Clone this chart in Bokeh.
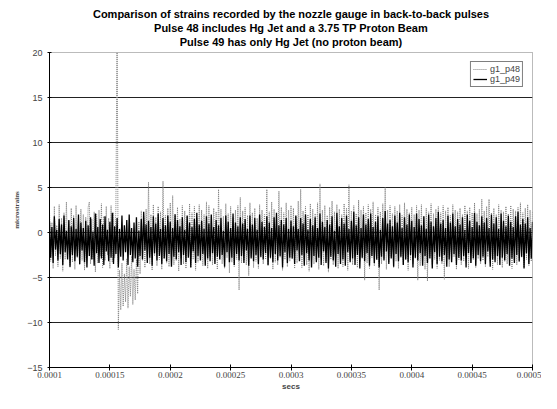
from bokeh.plotting import figure
from bokeh.models import FixedTicker, Range1d, Title, Legend
from bokeh.embed import file_html
from bokeh.resources import INLINE

# ---------------- data ----------------
t_start = 0.0001
t_step = 0.000001

# g1_p48 (Hg jet + 3.75 TP proton beam) - microstrains
p48 = [2.4, -3.2, 1.1, -4.0, 2.9, -2.6, 0.8, -3.8, 3.1, -2.9, 1.6, -4.3, 2.2, -3.0, 3.4, -2.4, 1.3, -3.9, 2.7, -3.3,
       1.9, -4.1, 3.0, -2.8, 1.4, -3.6, 2.6, -3.1, 2.0, -4.2, 1.7, -2.7, 2.8, 3.4, -3.5, 1.5, -3.0, 2.3, -4.4, 2.1,
       -3.4, 2.5, -2.6, 3.2, -3.9, 1.8, -3.1, 2.9, -2.5, 1.6, -4.0, 3.0, -3.3, 2.2, -2.8, 2.7, 25.0, -10.8, -4.2, -8.6,
       -3.4, -8.2, -4.6, -7.7, -2.9, -8.4, -3.8, -7.1, -2.6, -8.0, -4.1, -7.5, -3.0, -6.8, 1.2, -4.6, 2.4, -3.1, 1.8, -3.9,
       2.6, -2.8, 5.6, -3.5, 2.0, -4.2, 3.1, -2.6, 1.7, -3.7, 2.9, -3.0, 2.3, -4.1, 5.7, -2.9, 1.9, -3.4, 2.7, -3.8,
       3.3, -2.7, 4.1, -3.6, 2.1, -3.1, 2.8, -4.3, 1.5, -2.9, 3.0, -3.5, 2.4, -4.0, 1.8, -2.6, 3.2, -3.9, 2.2, -3.0,
       2.9, -4.2, 1.6, -3.3, 3.1, -2.8, 2.5, -3.7, 2.0, -3.1, 3.4, -4.0, 3.0, -2.7, 1.9, -3.6, 2.7, -3.2, 2.3, -4.1,
       4.8, -2.9, 2.6, -3.5, 1.8, -4.0, 3.2, -2.8, 2.1, -4.5, 2.9, -3.3, 1.7, -3.8, 2.5, -3.0, 3.0, -6.4, 3.9, -3.4,
       2.4, -3.1, 2.8, -3.6, 1.9, -4.8, 3.3, -2.7, 2.2, -3.9, 2.7, -3.2, 1.6, -4.0, 3.1, -2.8, 2.5, -3.5, 2.0, -3.0,
       4.8, -3.7, 2.3, -2.9, 3.4, -4.1, 2.6, -3.3, 1.9, -3.6, 4.6, -2.8, 2.8, -4.2, 2.2, -3.0, 3.3, -3.8, 2.5, -3.2,
       3.0, -2.9, 2.7, -4.0, 1.8, -3.4, 3.5, -2.7, 4.8, -3.9, 2.4, -3.1, 2.9, -3.6, 2.0, -4.3, 3.2, -2.8, 2.6, -3.5,
       2.1, -3.0, 3.3, -4.1, 5.4, -2.9, 2.5, -3.7, 3.0, -3.2, 1.9, -4.4, 2.8, -3.0, 3.5, -3.6, 2.3, -2.8, 3.1, -4.0,
       2.6, -3.3, 2.0, -3.8, 3.2, -2.9, 2.7, -4.2, 5.3, -3.1, 2.4, -3.6, 3.0, -2.7, 2.1, -3.9, 3.6, -3.2, 2.5, -2.9,
       2.9, -5.3, 2.2, -3.4, 3.1, -4.0, 2.6, -2.8, 3.4, -3.7, 2.0, -3.1, 2.8, -6.4, 2.3, -3.5, 3.2, -2.9, 5.0, -4.1,
       2.5, -3.3, 3.0, -2.7, 2.1, -3.9, 2.9, -3.2, 2.4, -4.0, 3.1, -2.8, 1.9, -3.6, 3.3, -3.0, 2.6, -4.2, 2.2, -3.1,
       2.8, -3.5, 2.0, -2.9, 3.0, -5.3, 2.5, -3.7, 3.1, -3.2, 1.8, -4.1, 2.7, -5.4, 2.3, -2.8, 3.2, -3.6, 2.1, -3.0,
       2.6, -4.0, 2.9, -3.1, 2.2, -3.5, 3.0, -5.2, 2.4, -2.9, 2.8, -3.8, 1.9, -3.3, 3.1, -2.7, 2.5, -4.1, 2.3, -3.0,
       2.7, -3.6, 2.0, -3.2, 3.0, -2.8, 2.4, -4.0, 2.8, -3.4, 2.2, -3.0, 3.3, -3.9, 2.1, -2.9, 2.6, -3.5, 3.7, -3.1,
       2.4, -3.8, 2.9, -2.7, 3.7, -3.3, 2.2, -4.1, 2.7, -3.0, 2.0, -3.6, 3.1, -2.8, 2.5, -3.9, 2.3, -3.2, 2.9, -3.5,
       2.1, -2.9, 3.0, -4.0, 2.6, -3.1, 2.4, -3.6, 2.8, -3.3, 3.3, -2.8, 2.2, -3.9, 2.7, -3.0, 3.1, -3.7, 2.5, -3.2,
       2.4]

# g1_p49 (Hg jet only) - microstrains
p49 = [1.2, -2.8, 0.6, -3.4, 1.8, -1.9, 0.3, -3.1, 1.5, -2.4, 0.9, -3.6, 1.9, -2.2, 0.2, -3.0, 1.4, -3.8, 0.7, -2.5,
       1.6, -3.2, 0.4, -2.7, 2.0, -3.5, 1.1, -2.0, 0.5, -3.3, 1.3, -3.9, 0.8, -2.6, 1.7, -3.0, 0.1, -3.7, 2.1, -2.3,
       0.6, -3.4, 1.5, -2.9, 0.9, -3.6, 1.8, -2.1, 0.3, -3.2, 1.2, -2.8, 2.2, -3.5, 0.7, -2.4, 1.6, -3.9, 0.4, -2.7,
       1.9, -3.1, 0.8, -2.2, 1.4, -3.6, 2.0, -2.5, 0.5, -3.3, 1.1, -2.9, 1.7, -3.8, 0.2, -2.6, 1.5, -3.0, 2.3, -2.0,
       0.9, -3.4, 1.3, -2.8, 0.6, -3.7, 1.8, -2.3, 1.0, -3.1, 2.1, -2.6, 0.4, -3.5, 1.6, -2.9, 0.8, -3.2, 1.9, -2.4,
       1.2, -3.8, 0.5, -2.7, 2.0, -3.0, 1.4, -2.2, 0.7, -3.6, 1.7, -2.5, 0.3, -3.3, 1.9, -2.8, 1.1, -3.9, 0.6, -2.1,
       1.5, -3.4, 2.2, -2.6, 0.9, -3.1, 1.3, -2.4, 0.4, -3.7, 1.8, -2.9, 1.0, -3.2, 2.0, -2.3, 0.6, -3.5, 1.4, -2.7,
       0.8, -3.0, 1.6, -2.5, 0.2, -3.8, 1.9, -2.2, 1.2, -3.3, 0.5, -2.8, 2.1, -3.6, 1.1, -2.4, 0.7, -3.1, 1.7, -2.6,
       1.0, -3.4, 1.5, -2.0, 0.4, -3.7, 1.9, -2.9, 0.9, -3.2, 1.6, -2.5, 0.3, -3.5, 2.0, -2.7, 1.2, -3.0, 0.6, -2.3,
       1.8, -3.6, 1.1, -2.8, 0.5, -3.3, 1.7, -2.4, 2.2, -3.1, 0.8, -2.6, 1.4, -3.9, 0.9, -2.2, 1.6, -3.4, 0.4, -2.8,
       1.3, -2.9, 0.7, -3.5, 1.9, -2.0, 0.4, -3.2, 1.6, -2.5, 1.0, -3.7, 2.0, -2.3, 0.3, -3.1, 1.5, -3.9, 0.8, -2.6,
       1.7, -3.3, 0.5, -2.8, 2.1, -3.6, 1.2, -2.1, 0.6, -3.4, 1.4, -4.0, 0.9, -2.7, 1.8, -3.1, 0.2, -3.8, 2.2, -2.4,
       0.7, -3.5, 1.6, -3.0, 1.0, -3.7, 1.9, -2.2, 0.4, -3.3, 1.3, -2.9, 2.3, -3.6, 0.8, -2.5, 1.7, -4.0, 0.5, -2.8,
       2.0, -3.2, 0.9, -2.3, 1.5, -3.7, 2.1, -2.6, 0.6, -3.4, 1.2, -3.0, 1.8, -3.9, 0.3, -2.7, 1.6, -3.1, 2.4, -2.1,
       1.0, -3.5, 1.4, -2.9, 0.7, -3.8, 1.9, -2.4, 1.1, -3.2, 2.2, -2.7, 0.5, -3.6, 1.7, -3.0, 0.9, -3.3, 2.0, -2.5,
       1.3, -3.9, 0.6, -2.8, 2.1, -3.1, 1.5, -2.3, 0.8, -3.7, 1.8, -2.6, 0.4, -3.4, 2.0, -2.9, 1.2, -4.0, 0.7, -2.2,
       1.6, -3.5, 2.3, -2.7, 1.0, -3.2, 1.4, -2.5, 0.5, -3.8, 1.9, -3.0, 1.1, -3.3, 2.1, -2.4, 0.7, -3.6, 1.5, -2.8,
       0.9, -3.1, 1.7, -2.6, 0.3, -3.9, 2.0, -2.3, 1.3, -3.4, 0.6, -2.9, 2.2, -3.7, 1.2, -2.5, 0.8, -3.2, 1.8, -2.7,
       1.1, -3.5, 1.6, -2.1, 0.5, -3.8, 2.0, -3.0, 1.0, -3.3, 1.7, -2.6, 0.4, -3.6, 2.1, -2.8, 1.3, -3.1, 0.7, -2.4,
       1.9, -3.7, 1.2, -2.9, 0.6, -3.4, 1.8, -2.5, 2.3, -3.2, 0.9, -2.7, 1.5, -4.0, 1.0, -2.3, 1.7, -3.5, 0.5, -2.9,
       1.2]

x_ticks = [0.0001, 0.00015, 0.0002, 0.00025, 0.0003, 0.00035, 0.0004, 0.00045, 0.0005]
x_tick_labels = ["0.0001", "0.00015", "0.0002", "0.00025", "0.0003",
                 "0.00035", "0.0004", "0.00045", "0.0005"]
y_ticks = [-15, -10, -5, 0, 5, 10, 15, 20]
grid_levels = [-10, -5, 0, 5, 10, 15]

title_lines = ["Comparison of strains recorded by the nozzle gauge in back-to-back pulses",
               "Pulse 48 includes Hg Jet and a 3.75 TP Proton Beam",
               "Pulse 49 has only Hg Jet (no proton beam)"]

t48 = [t_start + i * t_step for i in range(len(p48))]
t49 = [t_start + i * t_step for i in range(len(p49))]

# ---------------- figure ----------------
p = figure(width=541, height=393, output_backend="svg", toolbar_location=None,
           x_range=Range1d(0.0001, 0.0005), y_range=Range1d(-15, 20),
           min_border_left=49, min_border_right=9, min_border_bottom=24, min_border_top=52)
p.title = None
p.background_fill_color = "white"
p.border_fill_color = "white"
p.outline_line_color = "#777777"
p.outline_line_dash = "1 1"
p.outline_line_width = 1

p.add_layout(Title(text="\n".join(title_lines), align="center", text_align="center",
                   text_font="Liberation Sans", text_font_size="11px",
                   text_font_style="bold", text_line_height=1.2,
                   text_color="black", standoff=8, offset=0), "above")

r48 = p.line(t48, p48, line_color="#808080", line_width=1, line_dash="1 1")
r49 = p.line(t49, p49, line_color="black", line_width=1.3)

# axes
p.xaxis.ticker = FixedTicker(ticks=x_ticks)
p.xaxis.major_label_overrides = {v: s for v, s in zip(x_ticks, x_tick_labels)}
p.xaxis.minor_tick_line_color = None
p.xaxis.major_tick_in = 3
p.xaxis.major_tick_out = 3
p.xaxis.major_label_standoff = 1
p.xaxis.major_label_text_font = "Liberation Sans Narrow"
p.xaxis.major_label_text_font_size = "9px"
p.xaxis.axis_label = "secs"
p.xaxis.axis_label_text_font = "Liberation Sans"
p.xaxis.axis_label_text_font_style = "bold"
p.xaxis.axis_label_text_font_size = "8px"
p.xaxis.axis_label_standoff = 1
p.xaxis.axis_line_color = "black"

p.yaxis.ticker = FixedTicker(ticks=y_ticks)
p.yaxis.minor_tick_line_color = None
p.yaxis.major_tick_in = 2
p.yaxis.major_tick_out = 2
p.yaxis.major_label_standoff = 5
p.yaxis.major_label_text_font = "Liberation Sans"
p.yaxis.major_label_text_font_size = "9px"
p.yaxis.major_label_orientation = "horizontal"
p.yaxis.axis_label = "microstrains"
p.yaxis.axis_label_text_font = "Liberation Sans Narrow"
p.yaxis.axis_label_text_font_style = "bold"
p.yaxis.axis_label_text_font_size = "7px"
p.yaxis.axis_label_standoff = 3
p.yaxis.axis_line_color = "black"

p.xgrid.grid_line_color = None
p.ygrid.ticker = FixedTicker(ticks=grid_levels)
p.ygrid.grid_line_color = "#222222"
p.ygrid.grid_line_width = 1

legend = Legend(items=[("g1_p48", [r48]), ("g1_p49", [r49])],
                location="top_right", margin=9, padding=2, spacing=0,
                glyph_width=14, glyph_height=8, label_height=8, label_standoff=3,
                label_text_font="Liberation Sans", label_text_font_size="9px",
                border_line_color="black", border_line_width=1,
                background_fill_color="white", background_fill_alpha=1)
p.add_layout(legend)

open("out.html", "w").write(file_html(p, INLINE))
